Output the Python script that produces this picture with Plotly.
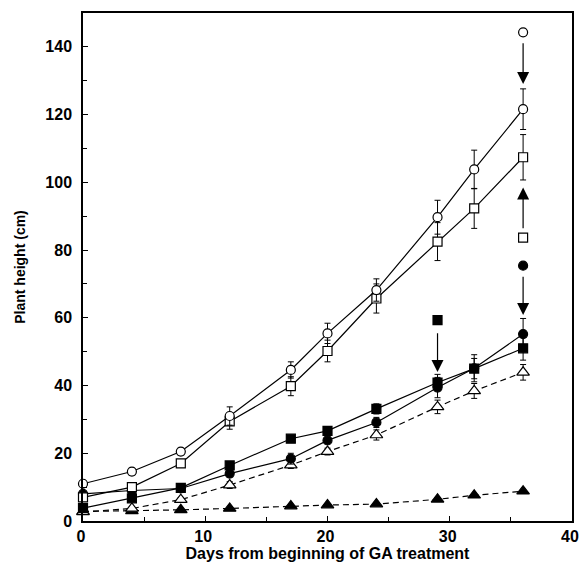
import plotly.graph_objects as go

days = [0, 4, 8, 12, 17, 20, 24, 29, 32, 36]

open_circle = [11.0, 14.6, 20.5, 31.0, 44.6, 55.4, 68.2, 89.7, 103.8, 121.6]
open_circle_err = [1.0, 1.0, 1.0, 2.7, 2.4, 3.0, 3.3, 5.0, 5.7, 6.0]

open_square = [7.0, 10.0, 17.0, 29.4, 39.8, 50.2, 65.7, 82.5, 92.3, 107.4]
open_square_err = [1.0, 1.0, 1.0, 2.3, 2.8, 3.2, 4.3, 5.6, 5.9, 6.7]

filled_square = [3.8, 6.7, 9.8, 16.4, 24.3, 26.6, 33.1, 40.9, 45.0, 51.0]
filled_square_err = [0.5, 0.5, 0.6, 1.0, 1.0, 1.0, 1.5, 2.4, 3.0, 3.5]

filled_circle = [8.0, 9.0, 9.6, 14.0, 18.4, 23.8, 29.1, 39.4, 45.1, 55.2]
filled_circle_err = [0.5, 0.5, 0.6, 1.0, 1.6, 1.0, 1.5, 3.0, 4.0, 4.6]

open_triangle = [2.7, 3.7, 6.3, 10.6, 16.5, 20.5, 25.4, 33.7, 38.4, 43.9]
open_triangle_err = [0.5, 0.5, 0.6, 1.0, 1.0, 1.0, 1.5, 2.0, 2.2, 2.3]

filled_triangle = [2.8, 3.0, 3.3, 3.7, 4.4, 4.7, 5.0, 6.4, 7.6, 8.8]
filled_triangle_err = [0.3] * 10

# single-point values (shown with arrows)
out_oc_x, out_oc_y = [36], [144.3]
out_os_x, out_os_y = [36], [83.7]
out_fc_x, out_fc_y = [36], [75.4]
out_fs_x, out_fs_y = [29], [59.3]

# arrows: (x, tail y, tip y)
arrows = [
    (36, 141.5, 129.0),
    (36, 86.0, 98.5),
    (36, 72.6, 60.8),
    (29, 55.9, 44.0),
]

x_ticks = [0, 10, 20, 30, 40]
y_ticks = [0, 20, 40, 60, 80, 100, 120, 140]

fig = go.Figure()

def add_series(y, err, symbol, fill, dash):
    fig.add_trace(go.Scatter(
        x=days, y=y, mode="lines+markers",
        line=dict(color="black", width=1.2, dash=dash),
        marker=dict(symbol=symbol, size=9 if "triangle" not in symbol else 11,
                    color=fill, line=dict(color="black", width=1.2)),
        error_y=dict(type="data", array=err, visible=True, color="black",
                     thickness=1, width=3),
        showlegend=False, cliponaxis=False, hoverinfo="skip",
    ))

add_series(filled_triangle, filled_triangle_err, "triangle-up", "black", "6px,4px")
add_series(open_triangle, open_triangle_err, "triangle-up", "white", "6px,4px")
add_series(filled_circle, filled_circle_err, "circle", "black", "solid")
add_series(filled_square, filled_square_err, "square", "black", "solid")
add_series(open_square, open_square_err, "square", "white", "solid")
add_series(open_circle, open_circle_err, "circle", "white", "solid")

def add_single(x, y, symbol, fill):
    fig.add_trace(go.Scatter(
        x=x, y=y, mode="markers",
        marker=dict(symbol=symbol, size=9, color=fill,
                    line=dict(color="black", width=1.2)),
        showlegend=False, cliponaxis=False, hoverinfo="skip",
    ))

add_single(out_oc_x, out_oc_y, "circle", "white")
add_single(out_os_x, out_os_y, "square", "white")
add_single(out_fc_x, out_fc_y, "circle", "black")
add_single(out_fs_x, out_fs_y, "square", "black")

for ax_x, tail, tip in arrows:
    fig.add_annotation(
        x=ax_x, y=tip, ax=ax_x, ay=tail, xref="x", yref="y",
        axref="x", ayref="y", showarrow=True, arrowhead=2,
        arrowsize=2.0, arrowwidth=1.2, arrowcolor="black",
        standoff=0, startstandoff=0, text="",
    )

font = dict(family="Arial, Liberation Sans, sans-serif", size=16,
            color="black", weight="bold")

fig.update_layout(
    width=580, height=574,
    margin=dict(l=83, r=8, t=13, b=53, autoexpand=False),
    plot_bgcolor="white", paper_bgcolor="white",
    font=font,
    xaxis=dict(
        range=[0, 40], tickvals=x_ticks, ticks="inside", ticklen=5,
        tickwidth=1, tickcolor="black", showline=True, linecolor="black",
        linewidth=1.5, mirror=True, showgrid=False, zeroline=False,
        automargin=False,
        minor=dict(dtick=5, ticks="inside", ticklen=4, tickcolor="black",
                   showgrid=False),
        title=dict(text="Days from beginning of GA treatment",
                   font=dict(size=16), standoff=3),
        tickfont=dict(size=16), ticklabelstandoff=0, ticklabelshift=-2,
    ),
    yaxis=dict(
        range=[0, 150], tickvals=y_ticks, ticks="inside", ticklen=5,
        tickwidth=1, tickcolor="black", showline=True, linecolor="black",
        linewidth=1.5, mirror=True, showgrid=False, zeroline=False,
        automargin=False,
        minor=dict(dtick=10, ticks="inside", ticklen=4, tickcolor="black",
                   showgrid=False),
        title=dict(text="Plant height (cm)", font=dict(size=14), standoff=16),
        tickfont=dict(size=16), ticklabelstandoff=6,
    ),
)

fig.write_html(
    "out.html",
    config={"displayModeBar": False},
    post_script="document.body.style.margin='0';document.body.style.overflow='hidden';",
)
